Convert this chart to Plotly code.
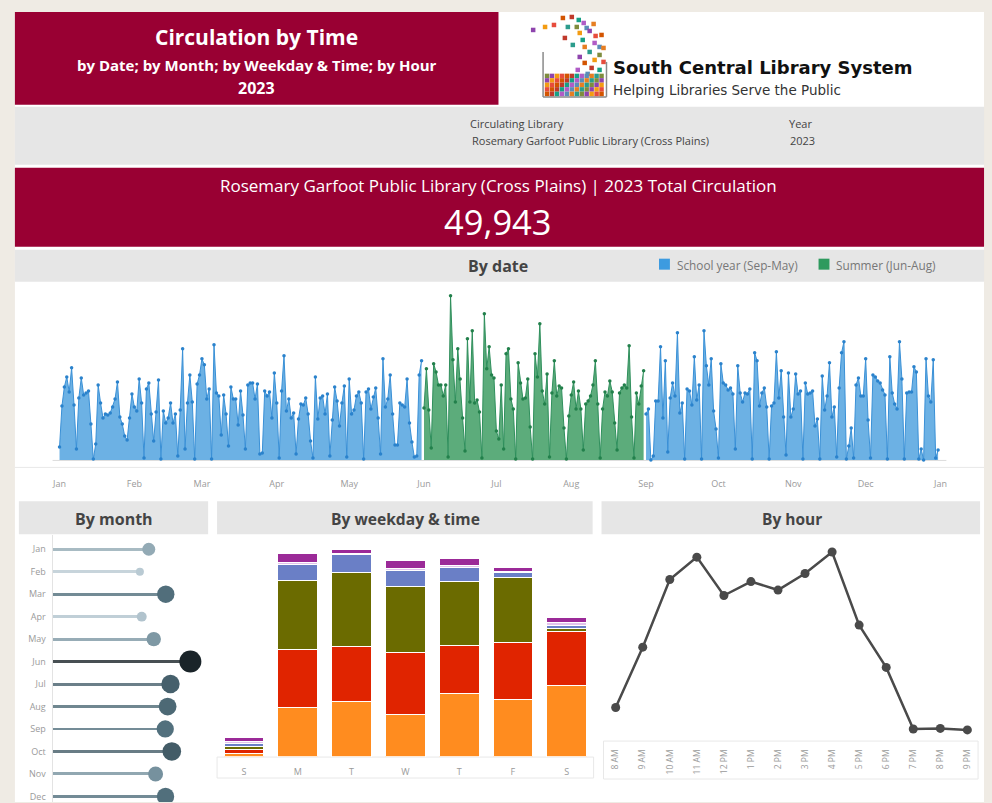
import plotly.graph_objects as go
import pandas as pd

# ---------------- data ----------------
# daily circulation 2023 (Sun..Sat weeks; Jan 1 2023 = Sunday)
daily_circ = [
    13, 54, 73, 83, 68, 92, 55,
    11, 62, 82, 65, 67, 69, 36,
    1, 16, 75, 57, 42, 46, 45,
    47, 53, 61, 78, 43, 36, 24,
    20, 42, 66, 53, 49, 81, 57,
    2, 71, 77, 46, 19, 48, 80,
    1, 49, 37, 42, 57, 37, 46,
    4, 50, 111, 11, 57, 85, 58,
    1, 76, 85, 101, 95, 61, 71,
    1, 115, 67, 64, 25, 65, 46,
    14, 73, 61, 61, 35, 69, 45,
    11, 75, 77, 77, 61, 76, 6,
    7, 69, 64, 68, 42, 87, 57,
    2, 69, 104, 49, 61, 42, 47,
    6, 41, 56, 55, 62, 46, 19,
    2, 83, 41, 62, 64, 46, 66,
    4, 40, 73, 59, 34, 57, 74,
    3, 81, 46, 50, 64, 68, 57,
    1, 68, 71, 51, 63, 72, 42,
    6, 101, 53, 61, 85, 46, 15,
    15, 57, 55, 53, 81, 37, 18,
    3, 4, 85, 99, 52, 91, 50,
    12, 96, 88, 75, 75, 64, 75,
    3, 164, 100, 58, 111, 81, 42,
    9, 121, 58, 129, 57, 60, 48,
    2, 146, 91, 113, 85, 82, 29,
    21, 75, 11, 106, 111, 61, 51,
    1, 97, 77, 61, 62, 81, 33,
    1, 106, 83, 136, 69, 56, 86,
    3, 67, 99, 64, 74, 72, 32,
    1, 44, 65, 78, 51, 69, 51,
    10, 56, 59, 64, 75, 99, 56,
    2, 51, 68, 64, 79, 68, 37,
    10, 67, 72, 75, 72, 114, 43,
    2, 67, 56, 74, 89, 46, 51,
    0, 4, 59, 59, 113, 42, 99,
    8, 62, 77, 64, 127, 47, 57,
    1, 71, 69, 55, 103, 60, 75,
    1, 129, 94, 75, 101, 49, 31,
    2, 96, 77, 75, 70, 72, 66,
    11, 94, 67, 58, 67, 66, 71,
    1, 107, 99, 54, 67, 72, 53,
    1, 54, 57, 108, 62, 89, 43,
    5, 87, 43, 51, 86, 66, 69,
    1, 77, 66, 67, 69, 34, 41,
    1, 84, 50, 64, 97, 43, 53,
    3, 72, 107, 118, 1, 14, 32,
    2, 75, 82, 64, 64, 101, 40,
    2, 85, 83, 79, 77, 70, 65,
    1, 103, 67, 56, 51, 118, 81,
    1, 67, 68, 68, 93, 88, 1,
    11, 0, 101, 64, 58, 100, 2,
    10,
]

months = ["Jan", "Feb", "Mar", "Apr", "May", "Jun", "Jul", "Aug", "Sep", "Oct", "Nov", "Dec"]
month_totals = [3680, 3340, 4330, 3410, 3870, 5270, 4510, 4400, 4310, 4560, 3940, 4320]

weekday_labels = ["S", "M", "T", "W", "T", "F", "S"]
slot_morning = [160, 2139, 2382, 1849, 2745, 2485, 3105]
slot_midday = [143, 2494, 2382, 2672, 2061, 2468, 2325]
slot_afternoon = [143, 3018, 3222, 2858, 2771, 2815, 143]
slot_evening = [117, 693, 792, 706, 650, 217, 130]
slot_late = [87, 74, 43, 74, 74, 56, 117]
slot_other = [173, 390, 173, 329, 303, 173, 217]

hours = ["8 AM", "9 AM", "10 AM", "11 AM", "12 PM", "1 PM", "2 PM", "3 PM",
         "4 PM", "5 PM", "6 PM", "7 PM", "8 PM", "9 PM"]
hour_totals = [1100, 3100, 5340, 6080, 4810, 5270, 4990, 5540, 6250, 3830, 2430, 390, 410, 360]

# ---------------- helpers ----------------
W, H = 992, 803
def px(x):
    return x / W
def py(y):
    return 1 - y / H

FONT = "Open Sans"
MAROON = "#990033"
GREY = "#e6e6e6"

fig = go.Figure()

# ---------------- daily area chart ----------------
dates = pd.date_range("2023-01-01", "2023-12-31", freq="D")
s = pd.Series(daily_circ, index=dates)
segments = [
    (s[:"2023-05-31"], "rgba(88,166,224,0.88)", "#3a90d6", "#2a82cc"),
    (s["2023-06-01":"2023-08-31"], "rgba(70,160,105,0.88)", "#2f8f5c", "#22804b"),
    (s["2023-09-01":], "rgba(88,166,224,0.88)", "#3a90d6", "#2a82cc"),
]
for seg, fillc, linec, markc in segments:
    fig.add_trace(go.Scatter(
        x=seg.index, y=seg.values, mode="lines+markers", fill="tozeroy",
        fillcolor=fillc, line=dict(color=linec, width=1),
        marker=dict(size=3.5, color=markc), xaxis="x", yaxis="y",
        showlegend=False, hoverinfo="x+y"))

# ---------------- by month lollipop ----------------
mn, mx = min(month_totals), max(month_totals)
cs = [[0, "#b9cad3"], [0.45, "#587886"], [1, "#1a2429"]]
sizes = [8 + 14 * ((v - mn) / (mx - mn)) ** 0.6 for v in month_totals]
fig.add_trace(go.Bar(
    x=month_totals, y=months, orientation="h", width=0.13,
    marker=dict(color=month_totals, colorscale=cs, cmin=mn, cmax=mx, line=dict(width=0)),
    opacity=0.8, xaxis="x2", yaxis="y2", showlegend=False))
fig.add_trace(go.Scatter(
    x=month_totals, y=months, mode="markers",
    marker=dict(size=sizes, color=month_totals, colorscale=cs, cmin=mn, cmax=mx,
                opacity=1, line=dict(width=0)),
    xaxis="x2", yaxis="y2", showlegend=False))

# ---------------- by weekday & time stacked bars ----------------
slots = [
    ("Morning", slot_morning, "#ff8c1f"),
    ("Midday", slot_midday, "#e02400"),
    ("Afternoon", slot_afternoon, "#6b6b00"),
    ("Evening", slot_evening, "#6a7fc6"),
    ("Late evening", slot_late, "#e2c4ec"),
    ("Other", slot_other, "#9b2a98"),
]
for name, vals, col in slots:
    fig.add_trace(go.Bar(
        x=list(range(7)), y=vals, name=name, width=0.74,
        marker=dict(color=col, line=dict(color="white", width=1)),
        xaxis="x3", yaxis="y3", showlegend=False))

# ---------------- by hour line ----------------
fig.add_trace(go.Scatter(
    x=hours, y=hour_totals, mode="lines+markers",
    line=dict(color="#4a4a4a", width=2.5), marker=dict(size=9, color="#4a4a4a"),
    xaxis="x4", yaxis="y4", showlegend=False))

# ---------------- logo squares (decorative) ----------------
logo_palette = ["#8e44ad", "#e67e22", "#16a085", "#e74c3c", "#7f8c3d", "#5b8db8",
                "#c0392b", "#f39c12", "#2c9c8c", "#b05cc6", "#d35400"]
plume_x = [533, 545, 554, 563, 572, 579, 584, 587, 594, 568, 577, 590, 580, 596, 602,
           565, 583, 595, 600, 585, 590, 600, 580, 595, 604, 585, 592, 600, 578, 588, 604, 573]
plume_y = [30, 27, 25, 18, 17, 20, 23, 28, 24, 27, 27, 31, 33, 36, 35,
           38, 40, 43, 47, 47, 52, 55, 57, 60, 62, 63, 68, 70, 70, 74, 48, 45]
bucket_x = [547 + 5 * (i % 12) for i in range(60)]
bucket_y = [76 + 4.5 * (i // 12) for i in range(60)]
lx = plume_x + bucket_x
ly = plume_y + bucket_y
lc = [logo_palette[(i * 7) % len(logo_palette)] for i in range(len(lx))]
fig.add_trace(go.Scatter(
    x=lx, y=ly, mode="markers", marker=dict(symbol="square", size=4.5, color=lc),
    xaxis="x5", yaxis="y5", showlegend=False, hoverinfo="skip"))

# ---------------- shapes ----------------
def rect(x0, y0, x1, y1, fill, line=None, layer="below"):
    return dict(type="rect", xref="paper", yref="paper",
                x0=px(x0), x1=px(x1), y0=py(y1), y1=py(y0),
                fillcolor=fill, layer=layer,
                line=dict(width=0) if line is None else dict(color=line, width=1))

def hline(x0, x1, y, color, width=1):
    return dict(type="line", xref="paper", yref="paper", x0=px(x0), x1=px(x1),
                y0=py(y), y1=py(y), line=dict(color=color, width=width), layer="below")

def vline(x, y0, y1, color, width=1):
    return dict(type="line", xref="paper", yref="paper", x0=px(x), x1=px(x),
                y0=py(y0), y1=py(y1), line=dict(color=color, width=width), layer="above")

shapes = [
    rect(10, 12, 988, 803, "white"),
    rect(10, 12, 498, 105, MAROON),
    rect(10, 107, 988, 165, GREY),
    rect(10, 168, 988, 247, MAROON),
    rect(10, 250, 988, 282, GREY),
    rect(14, 502, 205, 535, GREY),
    rect(214, 502, 593, 535, GREY),
    rect(602, 502, 984, 535, GREY),
    rect(660, 259, 671, 270, "#3d9be0", layer="above"),
    rect(821, 259, 832, 270, "#2e9a5e", layer="above"),
    hline(10, 988, 468, "#e8e8e8"),
    hline(48, 950, 461, "#dcdcdc"),
    rect(214, 758, 594, 779, "rgba(0,0,0,0)", line="#e8e8e8"),
    rect(604, 742, 982, 780, "rgba(0,0,0,0)", line="#e8e8e8"),
    vline(543, 52, 97, "#8a8a8a", 1.5),
    hline(543, 607, 97, "#8a8a8a", 1.5),
    vline(607, 62, 97, "#8a8a8a", 1.5),
]

# ---------------- annotations ----------------
def txt(x, y, text, size, color, anchor="center", bold=False, family=FONT):
    return dict(x=px(x), y=py(y), xref="paper", yref="paper", showarrow=False,
                text=("<b>%s</b>" % text) if bold else text,
                xanchor=anchor, yanchor="middle",
                font=dict(family=family, size=size, color=color))

annotations = [
    txt(254, 37, "Circulation by Time", 21, "white", bold=True),
    txt(254, 65, "by Date; by Month; by Weekday &amp; Time; by Hour", 15, "white", bold=True),
    txt(254, 88, "2023", 16, "white", bold=True),
    txt(612, 68, "South Central Library System", 18, "#111111", anchor="left", bold=True,
        family="DejaVu Sans"),
    txt(612, 90, "Helping Libraries Serve the Public", 13.5, "#333333", anchor="left",
        family="DejaVu Sans"),
    txt(467, 124, "Circulating Library", 11, "#444444", anchor="left"),
    txt(469, 141, "Rosemary Garfoot Public Library (Cross Plains)", 11, "#444444", anchor="left"),
    txt(789, 124, "Year", 11, "#444444", anchor="left"),
    txt(790, 141, "2023", 11, "#444444", anchor="left"),
    txt(498, 186, "Rosemary Garfoot Public Library (Cross Plains) | 2023 Total Circulation", 17, "white"),
    txt(498, 222, "49,943", 34.5, "white"),
    txt(498, 266, "By date", 16, "#444444", bold=True),
    txt(676, 265, "School year (Sep-May)", 11.8, "#777777", anchor="left"),
    txt(837, 265, "Summer (Jun-Aug)", 11.8, "#777777", anchor="left"),
    txt(110, 520, "By month", 16, "#444444", bold=True),
    txt(404, 520, "By weekday &amp; time", 15.6, "#444444", bold=True),
    txt(794, 520, "By hour", 15.5, "#444444", bold=True),
]

tickfont = dict(family=FONT, size=9, color="#9a9a9a")
hidden = dict(showgrid=False, zeroline=False, showticklabels=False, showline=False, ticks="")

fig.update_layout(
    width=W, height=H, margin=dict(l=0, r=0, t=0, b=0), autosize=False,
    paper_bgcolor="#efebe4", plot_bgcolor="rgba(0,0,0,0)",
    barmode="stack", bargap=0.2, showlegend=False,
    font=dict(family=FONT),
    shapes=shapes, annotations=annotations,
    xaxis=dict(domain=[px(52.6), px(946.4)], type="date",
               range=["2022-12-31", "2024-01-01 23:00"], anchor="y",
               tickformat="%b", dtick="M1", tick0="2023-01-01",
               showgrid=False, zeroline=False, showline=False, ticks="",
               tickfont=tickfont, ticklabelstandoff=10),
    yaxis=dict(domain=[py(468), py(285)], range=[-7.3, 175], anchor="x", **hidden),
    xaxis2=dict(domain=[px(48), px(205)], range=[0, 5950], anchor="y2", **hidden),
    yaxis2=dict(domain=[py(803), py(536)], range=[11.25, -0.62], anchor="x2",
                type="category", categoryarray=months, showgrid=False, zeroline=False,
                showline=True, linecolor="#e3e3e3", linewidth=1, ticks="",
                tickfont=tickfont, ticklabelstandoff=4),
    xaxis3=dict(domain=[px(214), px(594)], range=[-0.5, 6.5], anchor="y3",
                tickvals=list(range(7)), ticktext=weekday_labels,
                showgrid=False, zeroline=False, showline=False, ticks="",
                tickfont=tickfont, ticklabelstandoff=8),
    yaxis3=dict(domain=[py(757.7), py(536)], range=[0, 9600], anchor="x3", **hidden),
    xaxis4=dict(domain=[px(604), px(984)], range=[-0.45, 13.47], anchor="y4",
                type="category", categoryarray=hours,
                showgrid=False, zeroline=False, showline=False, ticks="",
                tickangle=-90, tickfont=dict(family=FONT, size=8.5, color="#9a9a9a"),
                ticklabelstandoff=6),
    yaxis4=dict(domain=[py(741.7), py(536)], range=[0, 6802], anchor="x4", **hidden),
    xaxis5=dict(domain=[0, 1], range=[0, W], anchor="y5", **hidden),
    yaxis5=dict(domain=[0, 1], range=[H, 0], anchor="x5", **hidden),
)

fig.write_html("out.html",
               config={"displayModeBar": False, "responsive": False},
               post_script="document.body.style.margin='0';document.body.style.overflow='hidden';")
